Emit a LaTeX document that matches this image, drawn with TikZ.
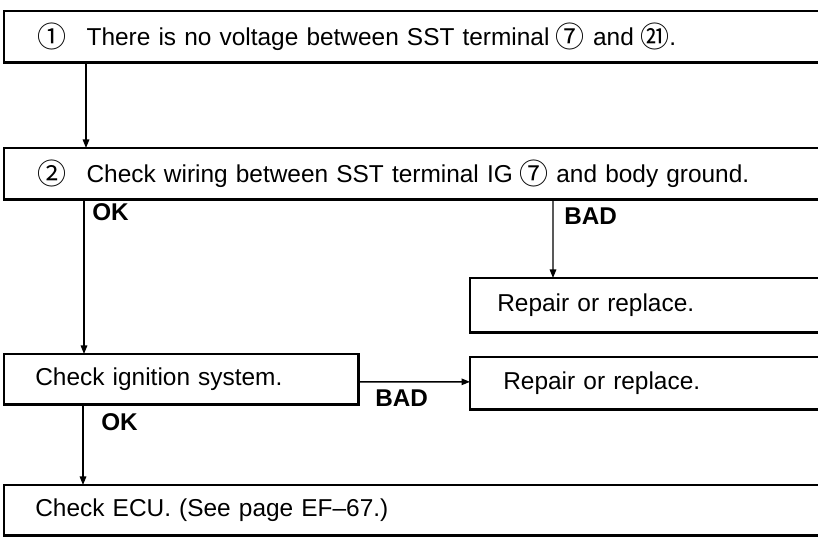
\documentclass[tikz,border=0pt]{standalone}
\usepackage{fontspec}
\setmainfont{Liberation Sans}[WordSpace=0.8]
\newfontfamily\circfont{Noto Sans CJK JP}
\usetikzlibrary{arrows.meta,positioning}

\newcommand{\circnum}[1]{{\circfont\fontsize{16.5}{18}\selectfont\kern-0.06em\raisebox{-0.1ex}{#1}}}

\begin{document}
\begin{tikzpicture}[
    >={Triangle[length=0.17cm,width=0.13cm]},
    line join=miter,
    stepbox/.style={
        rectangle,
        anchor=north west,
        inner ysep=0pt,
        align=left,
        font=\fontsize{13.9}{16}\selectfont
    },
    frame/.style={line width=1.4pt},
    flow/.style={->,line width=0.8pt},
    verdict/.style={inner sep=0pt,font=\fontsize{13.8}{16}\selectfont\bfseries}
]

\useasboundingbox (0,0) rectangle (16.36,10.8);

% Step 1
\node[stepbox,inner xsep=0.7cm,text width=14.9cm,minimum height=1.02cm]
    (warn) at (0.08,10.58)
    {\circnum{①}\hspace{0.4cm}There is no voltage between SST terminal \circnum{⑦} and \circnum{㉑}.};
\draw[frame] (warn.north east) -- (warn.north west)
    -- (warn.south west) -- (warn.south east);

% Step 2
\node[stepbox,inner xsep=0.7cm,text width=14.9cm,minimum height=1.02cm]
    (wire) at (0.08,7.84)
    {\circnum{②}\hspace{0.4cm}Check wiring between SST terminal IG \circnum{⑦} and body ground.};
\draw[frame] (wire.north east) -- (wire.north west)
    -- (wire.south west) -- (wire.south east);

% Repair after bad wiring
\node[stepbox,inner xsep=0.54cm,text width=5.88cm,minimum height=1.08cm]
    (fixwire) at (9.4,5.24)
    {Repair or replace.};
\draw[frame] (fixwire.north east) -- (fixwire.north west)
    -- (fixwire.south west) -- (fixwire.south east);

% Ignition check
\node[stepbox,inner xsep=0.62cm,text width=5.84cm,minimum height=1.0cm]
    (ign) at (0.08,3.72)
    {Check ignition system.};
\draw[frame] (ign.north west) rectangle (ign.south east);

% Repair after bad ignition
\node[stepbox,inner xsep=0.66cm,text width=5.64cm,minimum height=1.04cm]
    (fixign) at (9.4,3.66)
    {Repair or replace.};
\draw[frame] (fixign.north east) -- (fixign.north west)
    -- (fixign.south west) -- (fixign.south east);

% ECU check
\node[stepbox,inner xsep=0.62cm,text width=15.04cm,minimum height=1.0cm]
    (ecu) at (0.08,1.10)
    {Check ECU. (See page EF--67.)};
\draw[frame] (ecu.north east) -- (ecu.north west)
    -- (ecu.south west) -- (ecu.south east);

% Connectors
\draw[flow] ([xshift=1.64cm]warn.south west) -- ([xshift=1.64cm]wire.north west);
\draw[flow] ([xshift=1.60cm]wire.south west) -- ([xshift=1.60cm]ign.north west);
\draw[flow] ([xshift=10.98cm]wire.south west) -- ([xshift=1.66cm]fixwire.north west);
\draw[flow] ([yshift=-0.05cm]ign.east) -- ([yshift=0.03cm]fixign.west);
\draw[flow] ([xshift=1.58cm]ign.south west) -- ([xshift=1.58cm]ecu.north west);

% Branch labels
\node[verdict,anchor=west] (okwire) at ([xshift=1.76cm,yshift=-0.24cm]wire.south west) {OK};
\node[verdict,anchor=west] (badwire) at ([xshift=11.2cm,yshift=-0.32cm]wire.south west) {BAD};
\node[verdict] (badign) at ([xshift=0.86cm,yshift=0.14cm]ign.south east) {BAD};
\node[verdict,anchor=west] (okign) at ([xshift=1.94cm,yshift=-0.34cm]ign.south west) {OK};

\end{tikzpicture}
\end{document}
